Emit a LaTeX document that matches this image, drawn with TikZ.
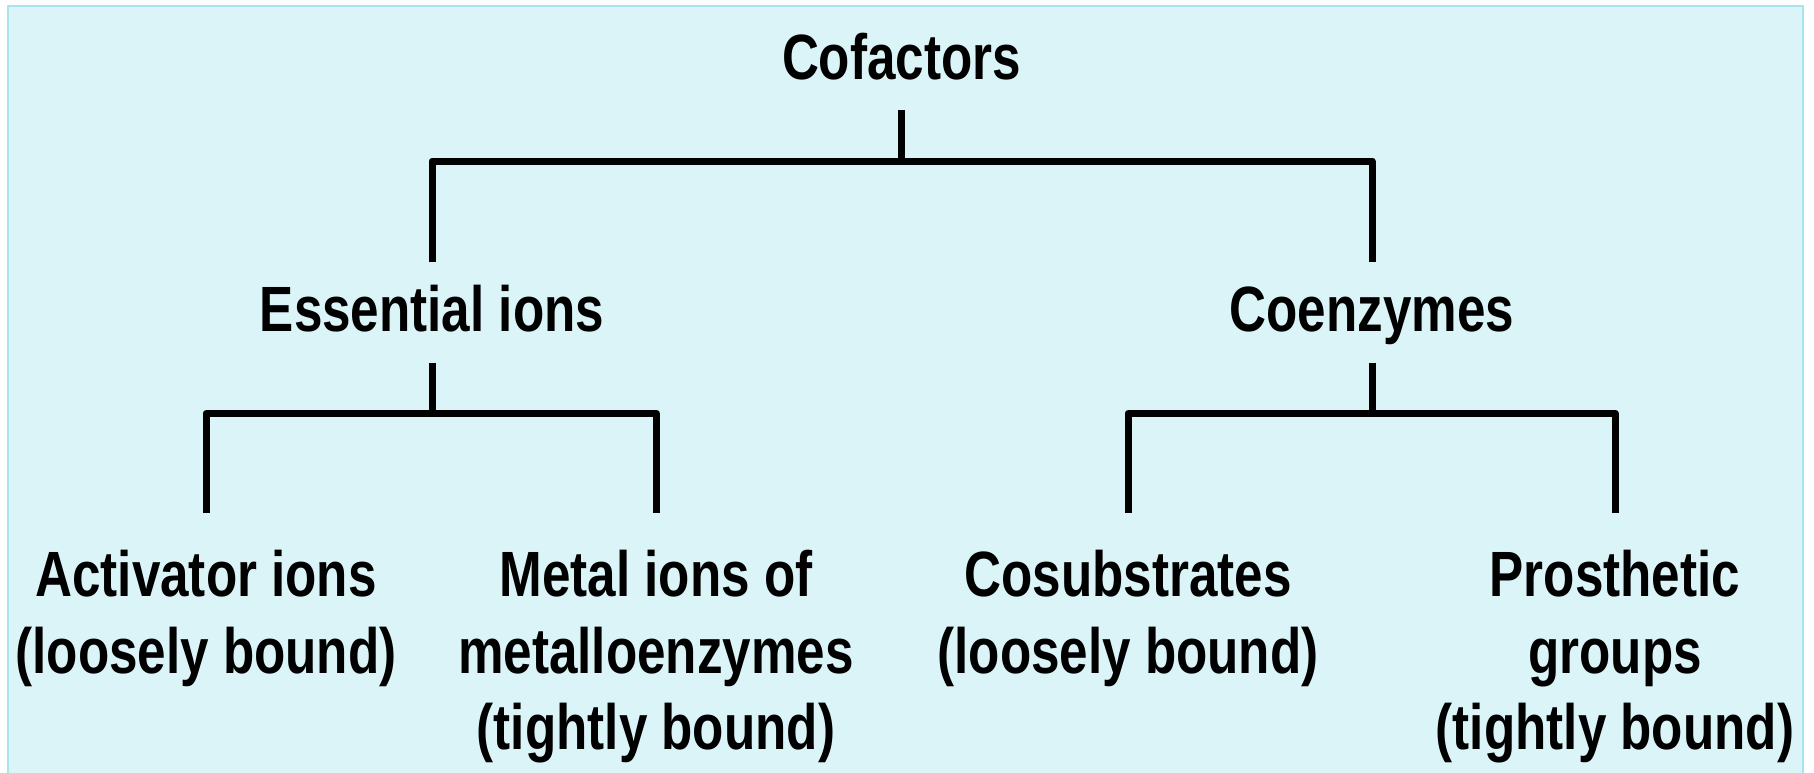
\documentclass[tikz,border=0pt]{standalone}
\usepackage{fontspec}
\setmainfont{Liberation Sans}[FakeStretch=0.8]
\definecolor{panel}{RGB}{219,244,248}
\definecolor{panelborder}{RGB}{168,228,238}
\begin{document}
\begin{tikzpicture}[x=1pt,y=1pt,
  lbl/.style={inner sep=0pt, outer sep=0pt, align=center,
    font=\fontsize{64}{76.7}\selectfont\bfseries},
  conn/.style={line width=7pt, line join=round, draw=black}]
\useasboundingbox (0,0) rectangle (1814,-773);
\fill[white] (0,0) rectangle (1814,-773);
\filldraw[fill=panel, draw=panelborder, line width=2pt] (8,-6) rectangle (1803,-790);

\node[lbl, anchor=base] (cof) at (901.5,-80) {Cofactors};
\node[lbl, anchor=base] (ess) at (432,-331.7) {Essential ions};
\node[lbl, anchor=base] (coe) at (1372,-331.7) {Coenzymes};
% base anchor of a multi-line node = baseline of its last line
\node[lbl, anchor=base] (act) at (206,-673.2) {Activator ions\\(loosely bound)};
\node[lbl, anchor=base] (met) at (656,-749.9) {Metal ions of\\metalloenzymes\\(tightly bound)};
\node[lbl, anchor=base] (cos) at (1128,-673.2) {Cosubstrates\\(loosely bound)};
\node[lbl, anchor=base] (pro) at (1615,-749.9) {Prosthetic\\groups\\(tightly bound)};

\coordinate (j0) at ([yshift=-81]cof.base);
\coordinate (j1) at ([yshift=-81.5]ess.base);
\coordinate (j2) at ([yshift=-81.5]coe.base);

\draw[conn] ([yshift=-30]cof.base) -- (j0);
\draw[conn] ([yshift=70]ess.base) |- (j0) -| ([yshift=70]coe.base);
\draw[conn] ([yshift=-31]ess.base) -- (j1);
\draw[conn] ([yshift=160.2]act.base) |- (j1) -| ([yshift=236.9]met.base);
\draw[conn] ([yshift=-31]coe.base) -- (j2);
\draw[conn] ([yshift=160.2]cos.base) |- (j2) -| ([yshift=236.9]pro.base);
\end{tikzpicture}
\end{document}
